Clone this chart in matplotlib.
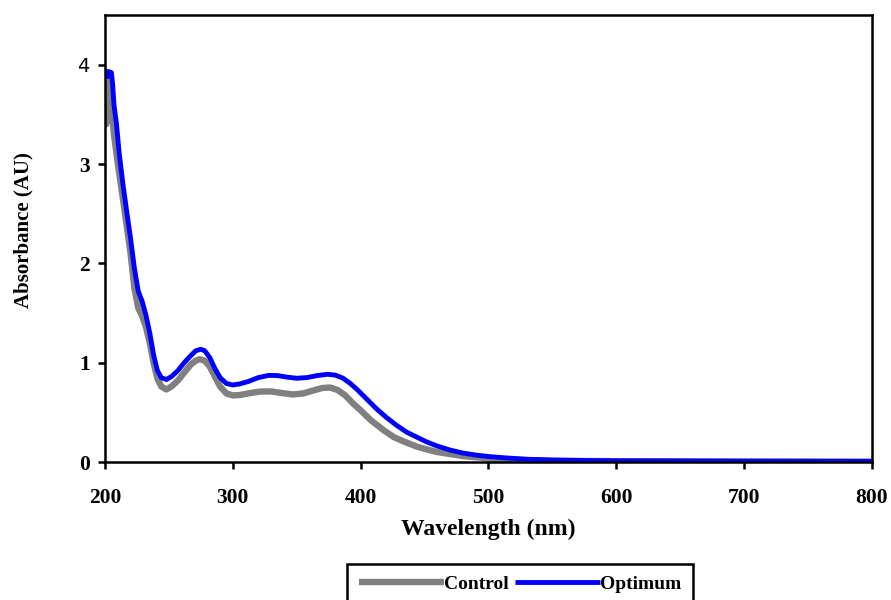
import numpy as np
import matplotlib
matplotlib.use("Agg")
import matplotlib.pyplot as plt

# wavelengths (nm) and absorbance
wl_control = [200, 201, 203, 204, 205, 207, 209, 211, 214, 217, 220, 223, 226, 229, 232,
              235, 238, 241, 244, 248, 252, 257, 262, 267, 271, 274, 278, 282, 286,
              290, 295, 300, 306, 314, 322, 330, 338, 347, 355, 363, 370, 376, 382,
              388, 394, 400, 408, 418, 426, 435, 444, 452, 460, 470, 480, 490, 500,
              515, 530, 550, 600, 700, 800]
control = [3.85, 3.40, 3.55, 3.85, 3.60, 3.30, 3.10, 2.92, 2.65, 2.38, 2.10, 1.75, 1.55,
           1.47, 1.36, 1.20, 1.00, 0.84, 0.76, 0.73, 0.76, 0.82, 0.90, 0.98, 1.02,
           1.035, 1.02, 0.96, 0.86, 0.76, 0.69, 0.67, 0.675, 0.695, 0.71, 0.71, 0.695,
           0.68, 0.69, 0.72, 0.745, 0.75, 0.725, 0.67, 0.59, 0.52, 0.42, 0.32, 0.25,
           0.20, 0.155, 0.125, 0.10, 0.08, 0.06, 0.048, 0.038, 0.025, 0.018, 0.012,
           0.008, 0.005, 0.004]

wl_optimum = [200, 202, 203, 205, 206, 207, 209, 211, 214, 217, 220, 223, 226, 229, 232,
              235, 238, 241, 244, 248, 252, 257, 262, 267, 271, 275, 278, 282, 286,
              290, 295, 300, 305, 312, 320, 328, 335, 342, 350, 358, 366, 374, 380,
              386, 392, 398, 405, 412, 420, 428, 436, 444, 452, 460, 470, 480, 490,
              500, 515, 530, 550, 575, 600, 650, 700, 800]
optimum = [3.95, 3.88, 3.93, 3.92, 3.80, 3.60, 3.40, 3.12, 2.80, 2.52, 2.25, 1.95, 1.72,
           1.62, 1.48, 1.30, 1.08, 0.92, 0.85, 0.83, 0.86, 0.92, 1.00, 1.07, 1.12,
           1.135, 1.12, 1.05, 0.94, 0.85, 0.79, 0.776, 0.785, 0.81, 0.85, 0.872, 0.87,
           0.855, 0.843, 0.85, 0.87, 0.883, 0.875, 0.845, 0.79, 0.72, 0.63, 0.54,
           0.45, 0.37, 0.30, 0.25, 0.20, 0.16, 0.12, 0.09, 0.07, 0.055, 0.04, 0.028,
           0.02, 0.015, 0.012, 0.01, 0.008, 0.006]

fig = plt.figure(figsize=(8.91, 6), dpi=100)
ax = fig.add_axes([105/891, 1 - 462/600, (872 - 105)/891, (462 - 15)/600])

ax.plot(wl_control, control, color="#808080", lw=4.6, label="Control",
        solid_joinstyle="round", solid_capstyle="butt")
ax.plot(wl_optimum, optimum, color="#0000FF", lw=3.5, label="Optimum",
        solid_joinstyle="round", solid_capstyle="butt")

ax.set_xlim(200, 800)
ax.set_ylim(0, 4.5)
ax.set_xticks([200, 300, 400, 500, 600, 700, 800])
ax.set_yticks([0, 1, 2, 3, 4])

for s in ax.spines.values():
    s.set_linewidth(1.8)
ax.tick_params(direction="out", length=5, width=1.8)
ax.tick_params(axis="x", pad=14)
ax.tick_params(axis="y", pad=6)

serif = "Liberation Serif"
for lab in ax.get_xticklabels() + ax.get_yticklabels():
    lab.set_fontfamily(serif)
    lab.set_fontweight("bold")
    lab.set_fontsize(15.5)
# the top label in the original is drawn in a plain sans face
top = ax.get_yticklabels()[-1]
top.set_fontfamily("DejaVu Sans")
top.set_fontweight("normal")
top.set_fontsize(14)

ax.set_xlabel("Wavelength (nm)", fontfamily=serif, fontweight="bold", fontsize=17)
ax.set_ylabel("Absorbance (AU)", fontfamily=serif, fontweight="bold", fontsize=15)
ax.xaxis.set_label_coords(0.5, (462 - 519)/447)
ax.yaxis.set_label_coords((33 - 105)/767, (462 - 230)/447)

# legend box runs off the bottom edge in the original
leg = fig.legend(loc="upper center", bbox_to_anchor=(520/891, 1 - 564/600), ncol=2,
                 prop={"family": serif, "weight": "bold", "size": 14},
                 handlelength=4.4, handletextpad=0.0, columnspacing=0.3,
                 fancybox=False, framealpha=1, borderpad=0.58, borderaxespad=0)
leg.get_frame().set_edgecolor("black")
leg.get_frame().set_linewidth(1.8)

fig.savefig("out.png", dpi=100)
